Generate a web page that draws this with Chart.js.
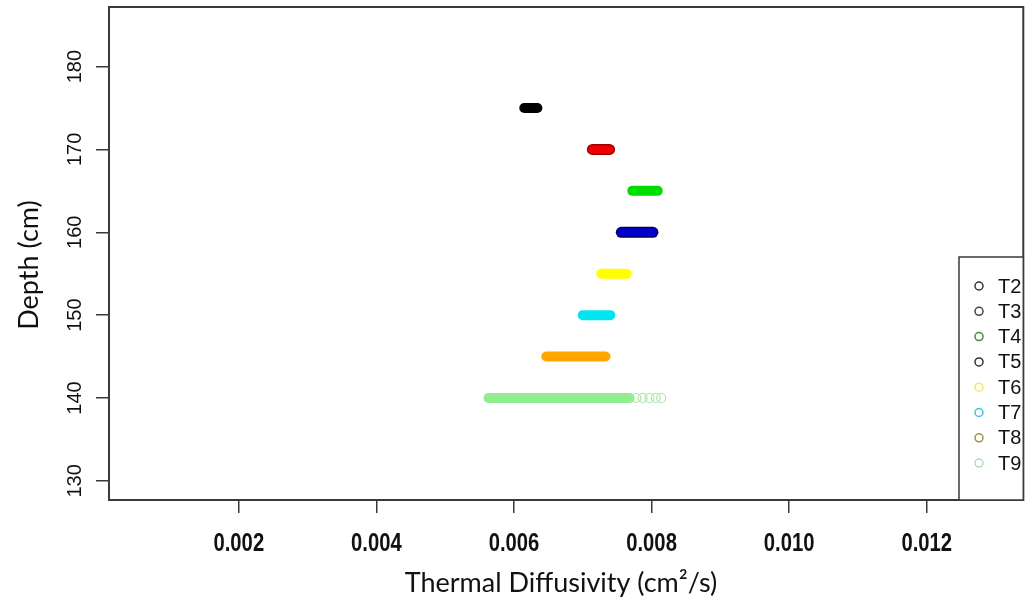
<!doctype html>
<html lang="en">
<head>
<meta charset="utf-8">
<title>Thermal diffusivity by depth</title>
<style>
  html, body { margin: 0; padding: 0; background: #fff; }
  #wrap { position: relative; width: 1029px; height: 605px; }
</style>
</head>
<body>
<div id="wrap"><canvas id="chart" width="1029" height="605"></canvas></div>
<script src="https://cdn.jsdelivr.net/npm/chart.js"></script>
<script>
// one sensor per depth, each spans a range of diffusivity values
const sensors = ['T2', 'T3', 'T4', 'T5', 'T6', 'T7', 'T8', 'T9'];
const depths = [175, 170, 165, 160, 155, 150, 145, 140];
const lowDiff = [0.00615, 0.00714, 0.00772, 0.00756, 0.00727, 0.00700, 0.00647, 0.00563];
const highDiff = [0.00634, 0.00739, 0.00809, 0.00802, 0.00764, 0.00740, 0.00733, 0.00768];
// the sparse open circles at the top end of T9
const t9Tail = [0.00778, 0.00787, 0.00797, 0.00806, 0.00814];

const xTicks = [0.002, 0.004, 0.006, 0.008, 0.010, 0.012];
const yTicks = [130, 140, 150, 160, 170, 180];

const lineColors = ['#000000', '#ee0000', '#00dd00', '#0000cc', '#ffff00', '#00e5ee', '#ffa500', '#90ee90'];
const edgeColors = [null, '#a00000', null, '#000060', null, null, null, null];
const keyColors = ['#333333', '#444444', '#3d8f3d', '#333333', '#f2e66a', '#3fc6d6', '#a88f3c', '#b6dcb6'];

const axisColor = '#3a3a3a';
const textColor = '#111';

const datasets = [];
sensors.forEach((name, i) => {
  const pts = [{ x: lowDiff[i], y: depths[i] }, { x: highDiff[i], y: depths[i] }];
  datasets.push({
    label: name,
    data: pts,
    showLine: true,
    borderColor: lineColors[i],
    borderWidth: edgeColors[i] ? 8 : 10,
    borderCapStyle: 'round',
    pointRadius: 0,
    order: 0
  });
  if (edgeColors[i]) {
    datasets.push({
      label: name + ' edge',
      data: pts,
      showLine: true,
      borderColor: edgeColors[i],
      borderWidth: 11,
      borderCapStyle: 'round',
      pointRadius: 0,
      order: 1
    });
  }
});
datasets.push({
  label: 'T9 tail',
  data: t9Tail.map(v => ({ x: v, y: 140 })),
  showLine: false,
  pointRadius: 4.5,
  pointBorderWidth: 1.2,
  pointBorderColor: '#a6e6a6',
  pointBackgroundColor: 'rgba(255,255,255,0)',
  order: 0
});

// plot box, axis labels in base-R style, and the legend box
const frame = {
  id: 'frame',
  afterDraw(chart) {
    const { ctx, chartArea: a, scales } = chart;
    ctx.save();
    ctx.strokeStyle = axisColor;
    ctx.lineWidth = 2;
    ctx.strokeRect(a.left, a.top, a.right - a.left, a.bottom - a.top);

    // y tick labels run along the axis
    ctx.fillStyle = textColor;
    ctx.font = '20px "Liberation Sans", Arial, sans-serif';
    ctx.textAlign = 'center';
    ctx.textBaseline = 'alphabetic';
    yTicks.forEach(v => {
      const py = scales.y.getPixelForValue(v);
      ctx.save();
      ctx.translate(a.left - 28, py);
      ctx.rotate(-Math.PI / 2);
      ctx.fillText(String(v), 0, 0);
      ctx.restore();
    });

    // x tick labels, bold and squeezed
    ctx.font = 'bold 25px "Liberation Sans", Arial, sans-serif';
    xTicks.forEach(v => {
      const px = scales.x.getPixelForValue(v);
      ctx.save();
      ctx.translate(px, 551);
      ctx.scale(0.81, 1);
      ctx.fillText(v.toFixed(3), 0, 0);
      ctx.restore();
    });

    // axis titles
    ctx.font = '27px Lato, sans-serif';
    ctx.textBaseline = 'middle';
    ctx.fillText('Thermal Diffusivity (cm²/s)', 561, 583);
    ctx.save();
    ctx.translate(29, 265);
    ctx.rotate(-Math.PI / 2);
    ctx.fillText('Depth (cm)', 0, 0);
    ctx.restore();

    // legend
    const lx = 959, ly = 257;
    ctx.lineWidth = 1.5;
    ctx.strokeStyle = axisColor;
    ctx.fillStyle = '#fff';
    ctx.fillRect(lx, ly, a.right - lx, a.bottom - ly);
    ctx.strokeRect(lx, ly, a.right - lx, a.bottom - ly);
    ctx.font = '20px "Liberation Sans", Arial, sans-serif';
    ctx.textAlign = 'left';
    sensors.forEach((name, i) => {
      const cy = 286 + i * 25.3;
      ctx.beginPath();
      ctx.arc(lx + 20, cy, 4, 0, Math.PI * 2);
      ctx.strokeStyle = keyColors[i];
      ctx.stroke();
      ctx.fillStyle = textColor;
      ctx.fillText(name, lx + 39, cy + 1);
    });
    ctx.restore();
  }
};

new Chart(document.getElementById('chart'), {
  type: 'scatter',
  data: { datasets },
  options: {
    responsive: false,
    animation: false,
    devicePixelRatio: 1,
    layout: { padding: { top: 7, right: 2, bottom: 0, left: 0 } },
    plugins: { legend: { display: false }, tooltip: { enabled: false } },
    scales: {
      x: {
        type: 'linear',
        min: 0.000113,
        max: 0.013404,
        afterBuildTicks: s => { s.ticks = xTicks.map(v => ({ value: v })); },
        afterFit: s => { s.height = 105; },
        grid: { drawOnChartArea: false, drawTicks: true, tickLength: 13, color: axisColor, lineWidth: 1.5 },
        border: { display: false },
        ticks: { display: false }
      },
      y: {
        type: 'linear',
        min: 127.69,
        max: 187.19,
        afterBuildTicks: s => { s.ticks = yTicks.map(v => ({ value: v })); },
        afterFit: s => { s.width = 109; },
        grid: { drawOnChartArea: false, drawTicks: true, tickLength: 13, color: axisColor, lineWidth: 1.5 },
        border: { display: false },
        ticks: { display: false }
      }
    }
  },
  plugins: [frame]
});
</script>
</body>
</html>
